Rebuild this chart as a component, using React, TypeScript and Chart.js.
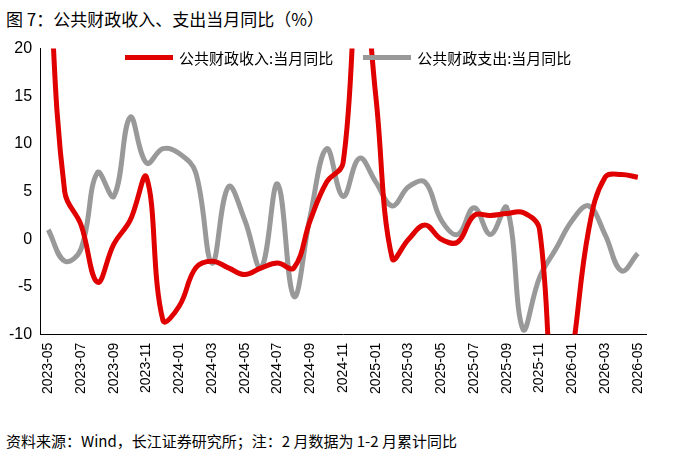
import React, { useEffect, useRef } from "react";
import { Chart, registerables } from "chart.js";
Chart.register(...registerables);

const months: string[] = [];
for (let i = 0; i < 37; i++) {
  const y = 2023 + Math.floor((4 + i) / 12);
  const m = ((4 + i) % 12) + 1;
  months.push(`${y}-${String(m).padStart(2, "0")}`);
}
const revenue = [30, 5, 1.5, -4.5, -0.5, 2, 6.5, -8.5, -7, -3, -2.3, -3, -3.7, -3, -2.5, -3, 2, 6, 8, 30, 15, -2, 0, 1.5, 0, -0.3, 2.5, 2.5, 2.7, 2.8, 1, -22, -12, 1, 6.5, 6.8, 6.5];
const expenditure = [1, -2.3, -1, 7, 4.5, 12.8, 8, 9.5, 9, 7, -2.5, 5.5, 2, -3, 5.8, -6, 2.5, 9.5, 4.5, 8.5, 6, 3.5, 5.5, 6, 2, 0.5, 3.3, 0.5, 3.3, -9.5, -4, -1, 2, 3.5, 0.5, -3.3, -1.5];
const yTicks = [-10, -5, 0, 5, 10, 15, 20];

const FONT = "'Liberation Sans', Arial, sans-serif";

export default function App() {
  const ref = useRef<HTMLCanvasElement>(null);
  useEffect(() => {
    const chart = new Chart(ref.current!, {
      type: "line",
      data: {
        labels: months,
        datasets: [
          { label: "公共财政收入:当月同比", data: revenue, borderColor: "#e00000", borderWidth: 5, pointRadius: 0, tension: 0.4 },
          { label: "公共财政支出:当月同比", data: expenditure, borderColor: "#999999", borderWidth: 5, pointRadius: 0, tension: 0.4 },
        ],
      },
      options: {
        animation: false,
        responsive: false,
        layout: { padding: { top: 4, right: 28, left: 6 } },
        plugins: { legend: { display: false }, tooltip: { enabled: false } },
        scales: {
          x: {
            offset: true,
            grid: { display: false, tickLength: 5 },
            border: { color: "#000" },
            ticks: {
              autoSkip: false,
              maxRotation: 90, minRotation: 90,
              color: "#000",
              font: { family: FONT, size: 14 },
              callback: (_v, i) => (i % 2 === 0 ? months[i] : ""),
            },
          },
          y: {
            min: -10, max: 20,
            afterBuildTicks: (s: any) => { s.ticks = yTicks.map((v) => ({ value: v })); },
            grid: { display: false, tickLength: 5 },
            border: { color: "#000" },
            ticks: { color: "#000", font: { family: FONT, size: 16 } },
          },
        },
      },
    });
    return () => chart.destroy();
  }, []);
  return (
    <div style={{ position: "absolute", left: 0, top: 0, width: 674, height: 462, background: "#fff", fontFamily: "'Noto Sans CJK SC', sans-serif" }}>
      <div style={{ position: "absolute", left: 6, top: 6, fontSize: 17, color: "#000" }}>图 7：公共财政收入、支出当月同比（%）</div>
      <div style={{ position: "absolute", top: 36, left: 0 }}>
        <canvas ref={ref} width={674} height={361} style={{ width: 674, height: 361 }} />
      </div>
      <div style={{ position: "absolute", left: 125, top: 47, display: "flex", alignItems: "center", fontSize: 15 }}>
        <span style={{ display: "inline-block", width: 48, height: 5, background: "#e00000", marginRight: 6 }} />公共财政收入:当月同比
        <span style={{ display: "inline-block", width: 48, height: 5, background: "#999", margin: "0 6px 0 30px" }} />公共财政支出:当月同比
      </div>
      <div style={{ position: "absolute", left: 6, top: 430, fontSize: 15, color: "#000" }}>资料来源：Wind，长江证券研究所；注：2 月数据为 1-2 月累计同比</div>
    </div>
  );
}
